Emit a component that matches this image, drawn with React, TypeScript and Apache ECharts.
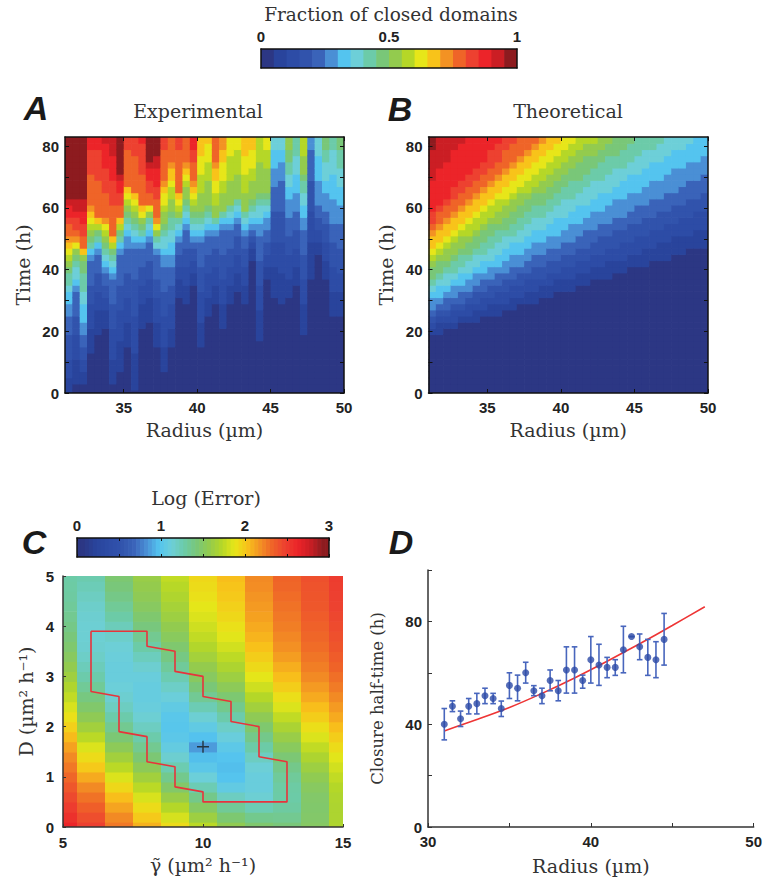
import React, { useEffect, useRef } from 'react';
import * as echarts from 'echarts';

// ---------- colour scale (20 levels) ----------
const FRACTION_COLORS = [
  '#2c3784', '#29449c', '#2d4ca6', '#3153ac', '#3a63b9', '#4a8fd5', '#54c4ef', '#6dcfd8', '#6ccba9', '#79c778',
  '#93cb4e', '#b5d727', '#e7e619', '#f8c31a', '#f39223', '#ef6428', '#ed4130', '#ec2429', '#cb1e24', '#8d1b1f',
];
const FRACTION_TICKS = [0, 0.5, 1];
const LOG_ERROR_MAX = 3;

// ---------- Panels A / B : grid ----------
const RADIUS_BINS = [
  31.25, 31.75, 32.25, 32.75, 33.25, 33.75, 34.25, 34.75, 35.25, 35.75, 36.25, 36.75, 37.25, 37.75, 38.25, 38.75,
  39.25, 39.75, 40.25, 40.75, 41.25, 41.75, 42.25, 42.75, 43.25, 43.75, 44.25, 44.75, 45.25, 45.75, 46.25, 46.75,
  47.25, 47.75, 48.25, 48.75, 49.25, 49.75,
];
const TIME_BINS = [
  0, 2, 4, 6, 8, 10, 12, 14, 16, 18, 20, 22, 24, 26, 28, 30, 32, 34, 36, 38, 40, 42, 44, 46, 48, 50, 52, 54, 56, 58,
  60, 62, 64, 66, 68, 70, 72, 74, 76, 78, 80, 82,
];
const RADIUS_TICKS = [35, 40, 45, 50];
const TIME_TICKS = [0, 10, 20, 30, 40, 50, 60, 70, 80];
const TIME_LABELS = [0, 20, 40, 60, 80];

// Panel A (experimental): time (h) at which each radius column reaches a fraction of 0.05 / 0.25 / 0.5 / 0.75 / 0.95
const expT05 = [-2, 4, 4, 14, 20, 22, 3, 8, 16, 2, 22, 24, 16, 7, 15, 32, 30, 35, 15, 25, 30, 21, 30, 33, 30, 44, 18, 38, 32, 30, 31, 36, 20, 38, 45, 38, 26, 25];
const expT25 = [26, 33, 19, 43, 45, 40, 38, 45, 48, 48, 47, 50, 45, 42, 42, 50, 54, 50, 50, 52, 52, 54, 53, 56, 52, 54, 52, 54, 68, 70, 58, 60, 54, 80, 62, 60, 56, 55];
const expT50 = [42, 45, 44, 51, 53, 50, 47, 53, 59, 57, 55, 58, 52, 56, 60, 58, 64, 60, 60, 62, 58, 60, 62, 64, 60, 63, 66, 66, 95, 95, 80, 88, 72, 110, 100, 85, 95, 86];
const expT75 = [52, 51, 47, 62, 58, 57, 52, 58, 68, 66, 62, 62, 57, 70, 76, 66, 76, 70, 90, 95, 76, 85, 100, 100, 88, 90, 110, 100, 130, 130, 110, 115, 100, 140, 130, 120, 125, 120];
const expT95 = [63, 63, 63, 95, 100, 90, 85, 72, 110, 110, 100, 76, 78, 110, 120, 120, 120, 90, 140, 140, 120, 130, 150, 150, 130, 140, 150, 150, 170, 170, 160, 160, 150, 180, 170, 170, 170, 170];

// Panel B (theoretical): time (h) at which each column reaches 0.05 / 0.25 / 0.5 / 0.75 / 0.85 / 0.95
const theoT05 = [19.0, 19.8, 20.6, 21.3, 22.1, 22.9, 23.7, 24.5, 25.2, 26.0, 26.8, 27.6, 28.4, 29.1, 29.9, 30.7, 31.5, 32.3, 33.0, 33.8, 34.6, 35.4, 36.2, 36.9, 37.7, 38.5, 39.3, 40.1, 40.8, 41.6, 42.4, 43.2, 44.0, 44.7, 45.5, 46.3, 47.1, 47.9];
const theoT25 = [28.0, 29.2, 30.3, 31.5, 32.6, 33.8, 34.9, 36.1, 37.2, 38.4, 39.5, 40.7, 41.8, 43.0, 44.1, 45.3, 46.4, 47.6, 48.7, 49.9, 51.0, 52.2, 53.3, 54.5, 55.6, 56.8, 57.9, 59.1, 60.2, 61.4, 62.5, 63.7, 64.8, 66.0, 67.1, 68.3, 69.4, 70.6];
const theoT50 = [40.5, 42.2, 43.9, 45.6, 47.3, 49.0, 50.7, 52.4, 54.1, 55.8, 57.5, 59.2, 60.9, 62.6, 64.3, 66.0, 67.7, 69.4, 71.1, 72.8, 74.5, 76.2, 77.9, 79.6, 81.3, 83.0, 84.7, 86.4, 88.1, 89.8, 91.5, 93.2, 94.9, 96.6, 98.3, 100.0, 101.7, 103.4];
const theoT75 = [53.0, 55.0, 57.1, 59.1, 61.2, 63.2, 65.2, 67.3, 69.3, 71.4, 73.4, 75.4, 77.5, 79.5, 81.6, 83.6, 85.6, 87.7, 89.7, 91.8, 93.8, 95.8, 97.9, 99.9, 102.0, 104.0, 106.0, 108.1, 110.1, 112.2, 114.2, 116.2, 118.3, 120.3, 122.4, 124.4, 126.4, 128.5];
const theoT85 = [59.0, 61.4, 63.8, 66.2, 68.6, 71.0, 73.4, 75.8, 78.2, 80.6, 83.0, 85.4, 87.8, 90.2, 92.6, 95.0, 97.4, 99.8, 102.2, 104.6, 107.0, 109.4, 111.8, 114.2, 116.6, 119.0, 121.4, 123.8, 126.2, 128.6, 131.0, 133.4, 135.8, 138.2, 140.6, 143.0, 145.4, 147.8];
const theoT95 = [80.0, 83.7, 87.4, 91.1, 94.8, 98.5, 102.2, 105.9, 109.6, 113.3, 117.0, 120.7, 124.4, 128.1, 131.8, 135.5, 139.2, 142.9, 146.6, 150.3, 154.0, 157.7, 161.4, 165.1, 168.8, 172.5, 176.2, 179.9, 183.6, 187.3, 191.0, 194.7, 198.4, 202.1, 205.8, 209.5, 213.2, 216.9];

// ---------- Panel C ----------
const GAMMA = [5, 6, 7, 8, 9, 10, 11, 12, 13, 14, 15];
const DIFFUSION = [0, 0.2, 0.4, 0.6, 0.8, 1.0, 1.2, 1.4, 1.6, 1.8, 2.0, 2.2, 2.4, 2.6, 2.8, 3.0, 3.2, 3.4, 3.6, 3.8, 4.0, 4.2, 4.4, 4.6, 4.8, 5.0];
const logErrorG5 = [2.62, 2.56, 2.5, 2.44, 2.38, 2.32, 2.26, 2.2, 2.13, 2.05, 1.97, 1.9, 1.83, 1.76, 1.7, 1.63, 1.57, 1.51, 1.46, 1.42, 1.38, 1.35, 1.32, 1.3, 1.29, 1.28];
const logErrorG6 = [2.48, 2.42, 2.35, 2.28, 2.2, 2.1, 2.0, 1.92, 1.84, 1.74, 1.64, 1.55, 1.47, 1.4, 1.33, 1.27, 1.22, 1.18, 1.15, 1.14, 1.14, 1.15, 1.17, 1.2, 1.23, 1.26];
const logErrorG7 = [2.26, 2.2, 2.12, 2.04, 1.94, 1.84, 1.74, 1.64, 1.54, 1.44, 1.35, 1.27, 1.2, 1.15, 1.12, 1.1, 1.1, 1.11, 1.13, 1.17, 1.22, 1.28, 1.33, 1.38, 1.42, 1.45];
const logErrorG8 = [2.08, 2.0, 1.92, 1.83, 1.74, 1.64, 1.54, 1.44, 1.35, 1.27, 1.2, 1.14, 1.1, 1.08, 1.08, 1.1, 1.15, 1.21, 1.28, 1.35, 1.41, 1.46, 1.51, 1.55, 1.58, 1.6];
const logErrorG9 = [1.92, 1.82, 1.72, 1.6, 1.48, 1.36, 1.25, 1.15, 1.07, 1.02, 1.0, 1.01, 1.05, 1.11, 1.18, 1.25, 1.32, 1.39, 1.46, 1.52, 1.57, 1.62, 1.66, 1.7, 1.73, 1.76];
const logErrorG10 = [1.74, 1.62, 1.5, 1.37, 1.24, 1.12, 1.02, 0.96, 0.86, 0.97, 1.05, 1.14, 1.24, 1.34, 1.43, 1.51, 1.58, 1.65, 1.71, 1.76, 1.8, 1.84, 1.87, 1.9, 1.92, 1.94];
const logErrorG11 = [1.56, 1.45, 1.33, 1.2, 1.06, 0.98, 0.96, 0.98, 1.03, 1.1, 1.18, 1.27, 1.36, 1.45, 1.54, 1.62, 1.69, 1.75, 1.81, 1.86, 1.9, 1.94, 1.97, 2.0, 2.02, 2.04];
const logErrorG12 = [1.46, 1.36, 1.24, 1.14, 1.1, 1.1, 1.13, 1.2, 1.28, 1.37, 1.46, 1.55, 1.64, 1.72, 1.8, 1.87, 1.93, 1.98, 2.03, 2.07, 2.1, 2.13, 2.15, 2.17, 2.19, 2.2];
const logErrorG13 = [1.42, 1.35, 1.3, 1.28, 1.29, 1.32, 1.37, 1.44, 1.52, 1.6, 1.68, 1.76, 1.84, 1.91, 1.98, 2.04, 2.09, 2.14, 2.18, 2.21, 2.24, 2.26, 2.28, 2.3, 2.32, 2.33];
const logErrorG14 = [1.5, 1.48, 1.47, 1.48, 1.51, 1.56, 1.62, 1.69, 1.76, 1.84, 1.91, 1.98, 2.04, 2.1, 2.15, 2.2, 2.24, 2.27, 2.3, 2.32, 2.34, 2.36, 2.38, 2.39, 2.4, 2.41];
const logErrorG15 = [1.7, 1.69, 1.69, 1.7, 1.72, 1.76, 1.81, 1.86, 1.92, 1.98, 2.04, 2.1, 2.15, 2.2, 2.25, 2.29, 2.33, 2.36, 2.39, 2.41, 2.43, 2.45, 2.47, 2.48, 2.49, 2.5];
const LOG_ERROR_COLUMNS = [logErrorG5, logErrorG6, logErrorG7, logErrorG8, logErrorG9, logErrorG10, logErrorG11, logErrorG12, logErrorG13, logErrorG14, logErrorG15];
const contourGamma = [6, 8, 8, 9, 9, 10, 10, 11, 11, 12, 12, 13, 13, 10, 10, 9, 9, 8, 8, 7, 7, 6, 6];
const contourD = [3.9, 3.9, 3.6, 3.5, 3.1, 3.0, 2.6, 2.5, 2.1, 2.0, 1.4, 1.3, 0.5, 0.5, 0.7, 0.8, 1.2, 1.3, 1.8, 1.9, 2.6, 2.7, 3.9];
const bestFit = [10, 1.6];

// ---------- Panel D ----------
const halfTimeRadius = [31, 31.5, 32, 32.5, 33, 33.5, 34, 34.5, 35, 35.5, 36, 36.5, 37, 37.5, 38, 38.5, 39, 39.5, 40, 40.5, 41, 41.5, 42, 42.5, 43, 43.5, 44, 44.5];
const halfTime = [40.0, 47.0, 42.1, 47.0, 48.0, 51.1, 50.0, 46.1, 55.1, 54.0, 60.0, 53.0, 51.1, 57.0, 53.0, 61.1, 61.1, 57.0, 65.1, 63.0, 62.1, 62.1, 69.0, 74.1, 70.1, 66.0, 65.1, 73.0];
const halfTimeHigh = [46.1, 49.1, 45.1, 50.0, 52.0, 54.0, 52.0, 49.0, 60.0, 59.1, 64.1, 55.0, 54.0, 61.1, 57.0, 70.1, 70.1, 59.1, 74.1, 71.1, 66.0, 65.1, 78.1, 74.1, 75.1, 73.0, 72.1, 83.1];
const halfTimeLow = [33.9, 44.9, 39.1, 44.0, 44.0, 48.0, 48.0, 43.0, 50.0, 49.1, 56.0, 51.1, 48.0, 53.0, 49.1, 52.1, 52.1, 54.0, 56.0, 55.1, 58.1, 59.0, 60.0, 74.1, 65.1, 59.0, 58.1, 63.0];
const fitRadius = [31, 33, 35, 37, 39, 41, 43, 45, 47];
const fitHalfTime = [37.4, 41.8, 46.5, 52.0, 58.0, 64.5, 71.3, 78.4, 85.7];

// ---------- helpers ----------
const SANS = '"Liberation Sans", Arial, sans-serif';
const SERIF = '"DejaVu Serif", serif';
const RGB = FRACTION_COLORS.map((h) => [parseInt(h.slice(1, 3), 16), parseInt(h.slice(3, 5), 16), parseInt(h.slice(5, 7), 16)]);

function fractionColor(v: number) {
  const i = Math.min(19, Math.max(0, Math.floor(v * 20)));
  return FRACTION_COLORS[i];
}
function continuousColor(t: number) {
  const pos = t * 20 - 0.5;
  const i = Math.floor(pos);
  if (i < 0) return FRACTION_COLORS[0];
  if (i >= 19) return FRACTION_COLORS[19];
  const f = pos - i;
  const a = RGB[i];
  const b = RGB[i + 1];
  return `rgb(${Math.round(a[0] + (b[0] - a[0]) * f)},${Math.round(a[1] + (b[1] - a[1]) * f)},${Math.round(a[2] + (b[2] - a[2]) * f)})`;
}
function valueFromKnots(t: number, knots: number[][]) {
  if (t <= knots[0][0]) return knots[0][1];
  for (let i = 1; i < knots.length; i++) {
    if (t <= knots[i][0]) {
      const [t0, v0] = knots[i - 1];
      const [t1, v1] = knots[i];
      return v0 + ((v1 - v0) * (t - t0)) / (t1 - t0);
    }
  }
  return knots[knots.length - 1][1];
}
function clipRect(r: any, c: any) {
  const x1 = Math.max(r.x, c.x);
  const y1 = Math.max(r.y, c.y);
  const x2 = Math.min(r.x + r.width, c.x + c.width);
  const y2 = Math.min(r.y + r.height, c.y + c.height);
  if (x2 <= x1 || y2 <= y1) return null;
  return { x: x1, y: y1, width: x2 - x1, height: y2 - y1 };
}
function cellRenderer(cellW: number, cellH: number, colorFn: (v: number) => string) {
  return (params: any, api: any) => {
    const x = api.value(0);
    const y = api.value(1);
    const v = api.value(2);
    const p1 = api.coord([x - cellW / 2, y + cellH / 2]);
    const p2 = api.coord([x + cellW / 2, y - cellH / 2]);
    const cs = params.coordSys;
    const rect = clipRect(
      { x: p1[0], y: p1[1], width: p2[0] - p1[0] + 0.7, height: p2[1] - p1[1] + 0.7 },
      { x: cs.x, y: cs.y, width: cs.width, height: cs.height },
    );
    if (!rect) return null;
    return { type: 'rect', shape: rect, style: { fill: colorFn(v) } };
  };
}

function buildExperimental() {
  const out: number[][] = [];
  RADIUS_BINS.forEach((r, k) => {
    const knots = [
      [expT05[k] - 10, 0], [expT05[k], 0.05], [expT25[k], 0.25], [expT50[k], 0.5], [expT75[k], 0.75], [expT95[k], 0.95], [expT95[k] + 10, 1],
    ];
    TIME_BINS.forEach((t) => out.push([r, t, valueFromKnots(t, knots)]));
  });
  return out;
}
function buildTheoretical() {
  const out: number[][] = [];
  RADIUS_BINS.forEach((r, k) => {
    const knots = [
      [theoT05[k] - 10, 0], [theoT05[k], 0.05], [theoT25[k], 0.25], [theoT50[k], 0.5], [theoT75[k], 0.75], [theoT85[k], 0.85], [theoT95[k], 0.95], [theoT95[k] + 10, 1],
    ];
    TIME_BINS.forEach((t) => out.push([r, t, valueFromKnots(t, knots)]));
  });
  return out;
}
function buildLogError() {
  const out: number[][] = [];
  GAMMA.forEach((g, i) => DIFFUSION.forEach((d, j) => out.push([g, d, LOG_ERROR_COLUMNS[i][j]])));
  return out;
}

const tickLabel = { fontFamily: SANS, fontWeight: 'bold' as const, fontSize: 15, color: '#222' };
const nameStyle = { fontFamily: SERIF, fontSize: 19, color: '#333' };

function frameAxis(gridIndex: number, position: string, min: number, max: number, extra: any = {}) {
  return {
    type: 'value', gridIndex, position, min, max, z: 10,
    axisLine: { show: true, onZero: false, lineStyle: { color: '#111', width: 1.5 } },
    axisTick: { show: false },
    axisLabel: { show: false },
    splitLine: { show: false },
    ...extra,
  };
}
const boxTick = (values: number[]) => ({ show: true, inside: true, length: 4, customValues: values, lineStyle: { color: '#111', width: 1 } });

export default function App() {
  const ref = useRef<HTMLDivElement>(null);
  useEffect(() => {
    if (!ref.current) return;
    const chart = echarts.init(ref.current, undefined, { renderer: 'svg' });

    const fracBarCells = FRACTION_COLORS.map((_, i) => [(i + 0.5) / 20, 0.5, (i + 0.5) / 20]);
    const logBarCells: number[][] = [];
    for (let i = 0; i < 64; i++) {
      const v = ((i + 0.5) / 64) * LOG_ERROR_MAX;
      logBarCells.push([v, 0.5, v]);
    }

    const radiusAxisName = { name: 'Radius (\u00b5m)', nameLocation: 'middle', nameGap: 27, nameTextStyle: nameStyle };
    const timeAxisName = { name: 'Time (h)', nameLocation: 'middle', nameGap: 33, nameTextStyle: nameStyle };

    const option: any = {
      animation: false,
      backgroundColor: '#fff',
      grid: [
        { left: 261, top: 49, width: 256, height: 19 },
        { left: 65, top: 137, width: 279, height: 256 },
        { left: 428.5, top: 137, width: 279.5, height: 256 },
        { left: 77, top: 538, width: 252, height: 19 },
        { left: 63, top: 576, width: 280, height: 251 },
        { left: 428, top: 570, width: 327, height: 257 },
      ],
      xAxis: [
        frameAxis(0, 'top', 0, 1, {
          interval: 0.5,
          axisLabel: { show: true, ...tickLabel, margin: 5, formatter: (v: number) => (FRACTION_TICKS.includes(v) ? String(v) : '') },
        }),
        frameAxis(0, 'bottom', 0, 1),
        frameAxis(1, 'bottom', 31, 50, {
          axisTick: boxTick(RADIUS_TICKS),
          axisLabel: { show: true, ...tickLabel, margin: 7, customValues: RADIUS_TICKS },
          ...radiusAxisName,
        }),
        frameAxis(1, 'top', 31, 50, { axisTick: boxTick(RADIUS_TICKS) }),
        frameAxis(2, 'bottom', 31, 50, {
          axisTick: boxTick(RADIUS_TICKS),
          axisLabel: { show: true, ...tickLabel, margin: 7, customValues: RADIUS_TICKS },
          ...radiusAxisName,
        }),
        frameAxis(2, 'top', 31, 50, { axisTick: boxTick(RADIUS_TICKS) }),
        frameAxis(3, 'top', 0, LOG_ERROR_MAX, {
          interval: 0.5,
          axisTick: { show: true, inside: true, length: 3, lineStyle: { color: '#111' } },
          axisLabel: { show: true, ...tickLabel, margin: 5, formatter: (v: number) => (Number.isInteger(v) ? String(v) : '') },
        }),
        frameAxis(3, 'bottom', 0, LOG_ERROR_MAX, {
          interval: 0.5,
          axisTick: { show: true, inside: true, length: 3, lineStyle: { color: '#111' } },
        }),
        {
          type: 'value', gridIndex: 4, min: 5, max: 15, interval: 5, z: 10,
          axisLine: { show: true, onZero: false, lineStyle: { color: '#333', width: 1.5 } },
          axisTick: { show: true, inside: true, length: 3, lineStyle: { color: '#333' } },
          axisLabel: { ...tickLabel, margin: 8 },
          splitLine: { show: false },
          name: '\u03b3\u0303 (\u00b5m\u00b2 h\u207b\u00b9)', nameLocation: 'middle', nameGap: 28, nameTextStyle: nameStyle,
        },
        {
          type: 'value', gridIndex: 5, min: 30, max: 50, interval: 5, z: 10,
          axisLine: { show: true, onZero: false, lineStyle: { color: '#333', width: 1.5 } },
          axisTick: { show: true, inside: true, length: 4, lineStyle: { color: '#333' } },
          axisLabel: { ...tickLabel, margin: 7, formatter: (v: number) => (v % 10 === 0 ? String(v) : '') },
          splitLine: { show: false },
          name: 'Radius (\u00b5m)', nameLocation: 'middle', nameGap: 29, nameTextStyle: nameStyle,
        },
      ],
      yAxis: [
        frameAxis(0, 'left', 0, 1),
        frameAxis(0, 'right', 0, 1),
        frameAxis(1, 'left', 0, 83, {
          axisTick: boxTick(TIME_TICKS),
          axisLabel: { show: true, ...tickLabel, margin: 6, customValues: TIME_LABELS },
          ...timeAxisName,
        }),
        frameAxis(1, 'right', 0, 83, { axisTick: boxTick(TIME_TICKS) }),
        frameAxis(2, 'left', 0, 83, {
          axisTick: boxTick(TIME_TICKS),
          axisLabel: { show: true, ...tickLabel, margin: 6, customValues: TIME_LABELS },
          ...timeAxisName,
        }),
        frameAxis(2, 'right', 0, 83, { axisTick: boxTick(TIME_TICKS) }),
        frameAxis(3, 'left', 0, 1),
        frameAxis(3, 'right', 0, 1),
        {
          type: 'value', gridIndex: 4, min: 0, max: 5, interval: 1, z: 10,
          axisLine: { show: true, onZero: false, lineStyle: { color: '#333', width: 1.5 } },
          axisTick: { show: true, inside: true, length: 3, lineStyle: { color: '#333' } },
          axisLabel: { ...tickLabel, margin: 9 },
          splitLine: { show: false },
          name: 'D (\u00b5m\u00b2 h\u207b\u00b9)', nameLocation: 'middle', nameGap: 28, nameTextStyle: nameStyle,
        },
        {
          type: 'value', gridIndex: 5, min: 0, max: 100, interval: 20, z: 10,
          axisLine: { show: true, onZero: false, lineStyle: { color: '#333', width: 1.5 } },
          axisTick: { show: true, inside: true, length: 4, lineStyle: { color: '#333' } },
          axisLabel: { ...tickLabel, margin: 6, formatter: (v: number) => (v % 40 === 0 ? String(v) : '') },
          splitLine: { show: false },
          name: 'Closure half-time (h)', nameLocation: 'middle', nameGap: 42, nameTextStyle: { ...nameStyle, fontSize: 16.5 },
        },
      ],
      series: [
        { type: 'custom', xAxisIndex: 0, yAxisIndex: 0, data: fracBarCells, renderItem: cellRenderer(0.05, 1, fractionColor), silent: true },
        { type: 'custom', xAxisIndex: 2, yAxisIndex: 2, data: buildExperimental(), renderItem: cellRenderer(0.5, 2, fractionColor), silent: true },
        { type: 'custom', xAxisIndex: 4, yAxisIndex: 4, data: buildTheoretical(), renderItem: cellRenderer(0.5, 2, fractionColor), silent: true },
        { type: 'custom', xAxisIndex: 6, yAxisIndex: 6, data: logBarCells, renderItem: cellRenderer(LOG_ERROR_MAX / 64, 1, (v) => continuousColor(v / LOG_ERROR_MAX)), silent: true },
        { type: 'custom', xAxisIndex: 8, yAxisIndex: 8, data: buildLogError(), renderItem: cellRenderer(1, 0.2, (v) => continuousColor(v / LOG_ERROR_MAX)), silent: true },
        {
          type: 'line', xAxisIndex: 8, yAxisIndex: 8, data: contourGamma.map((g, i) => [g, contourD[i]]),
          symbol: 'none', lineStyle: { color: '#e8333b', width: 1.6 }, z: 5, silent: true,
        },
        {
          type: 'scatter', xAxisIndex: 8, yAxisIndex: 8, data: [bestFit], symbol: 'path://M5.3,0H6.7V5.3H12V6.7H6.7V12H5.3V6.7H0V5.3H5.3Z',
          symbolSize: 12, itemStyle: { color: '#1a1a1a' }, z: 6, silent: true,
        },
        {
          type: 'line', xAxisIndex: 9, yAxisIndex: 9, data: fitRadius.map((r, i) => [r, fitHalfTime[i]]),
          symbol: 'none', smooth: 0.3, lineStyle: { color: '#ee3535', width: 1.6 }, z: 3, silent: true,
        },
        {
          type: 'custom', xAxisIndex: 9, yAxisIndex: 9, z: 4, silent: true,
          data: halfTimeRadius.map((r, i) => [r, halfTimeLow[i], halfTimeHigh[i]]),
          renderItem: (params: any, api: any) => {
            const x = api.value(0);
            const lo = api.coord([x, api.value(1)]);
            const hi = api.coord([x, api.value(2)]);
            const st = { stroke: '#4866bd', lineWidth: 1.6 };
            const cap = 2.8;
            return {
              type: 'group',
              children: [
                { type: 'line', shape: { x1: lo[0], y1: lo[1], x2: hi[0], y2: hi[1] }, style: st },
                { type: 'line', shape: { x1: lo[0] - cap, y1: lo[1], x2: lo[0] + cap, y2: lo[1] }, style: st },
                { type: 'line', shape: { x1: hi[0] - cap, y1: hi[1], x2: hi[0] + cap, y2: hi[1] }, style: st },
              ],
            };
          },
        },
        {
          type: 'scatter', xAxisIndex: 9, yAxisIndex: 9, z: 5, silent: true,
          data: halfTimeRadius.map((r, i) => [r, halfTime[i]]),
          symbol: 'circle', symbolSize: 7, itemStyle: { color: '#2c4aa6' },
        },
      ],
      graphic: [
        { type: 'text', x: 391, y: 14, style: { text: 'Fraction of closed domains', font: `18.5px ${SERIF}`, fill: '#333', textAlign: 'center', textVerticalAlign: 'middle' } },
        { type: 'text', x: 198, y: 111, style: { text: 'Experimental', font: `19px ${SERIF}`, fill: '#333', textAlign: 'center', textVerticalAlign: 'middle' } },
        { type: 'text', x: 568, y: 111, style: { text: 'Theoretical', font: `19px ${SERIF}`, fill: '#333', textAlign: 'center', textVerticalAlign: 'middle' } },
        { type: 'text', x: 206, y: 498, style: { text: 'Log (Error)', font: `19px ${SERIF}`, fill: '#333', textAlign: 'center', textVerticalAlign: 'middle' } },
        { type: 'text', x: 36, y: 108, style: { text: 'A', font: `italic bold 34px ${SANS}`, fill: '#1a1a1a', textAlign: 'center', textVerticalAlign: 'middle' } },
        { type: 'text', x: 400, y: 109, style: { text: 'B', font: `italic bold 34px ${SANS}`, fill: '#1a1a1a', textAlign: 'center', textVerticalAlign: 'middle' } },
        { type: 'text', x: 34, y: 542, style: { text: 'C', font: `italic bold 34px ${SANS}`, fill: '#1a1a1a', textAlign: 'center', textVerticalAlign: 'middle' } },
        { type: 'text', x: 401, y: 542, style: { text: 'D', font: `italic bold 34px ${SANS}`, fill: '#1a1a1a', textAlign: 'center', textVerticalAlign: 'middle' } },
      ],
    };
    chart.setOption(option);
    return () => chart.dispose();
  }, []);
  return <div ref={ref} style={{ position: 'absolute', left: 0, top: 0, width: 765, height: 883 }} />;
}
